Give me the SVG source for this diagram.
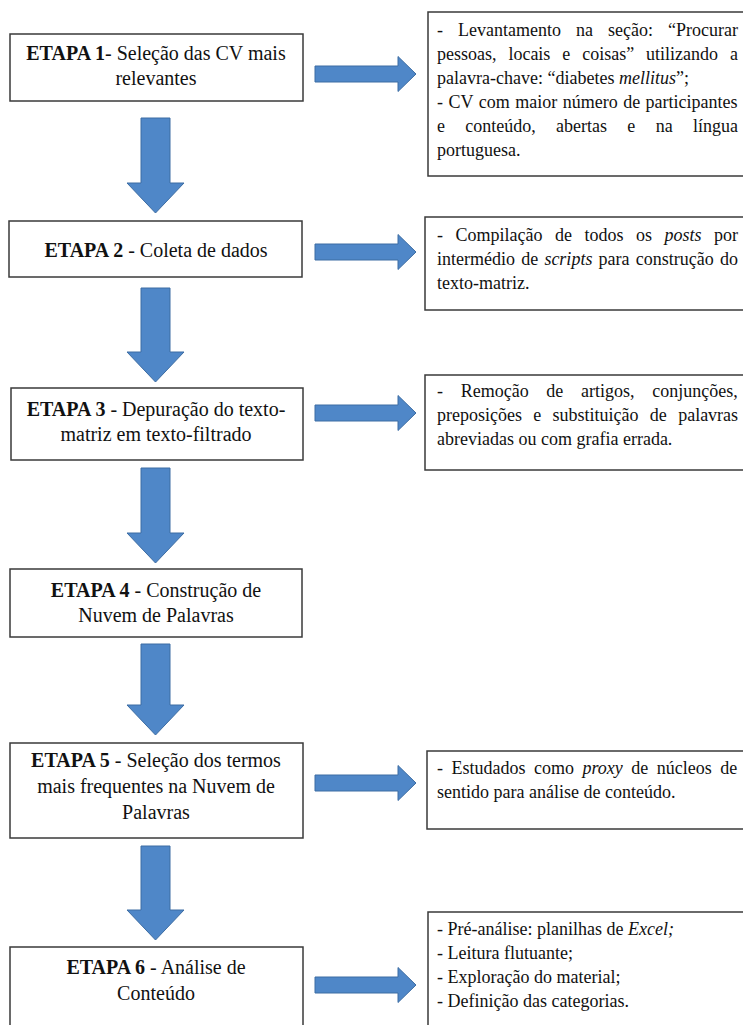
<svg xmlns="http://www.w3.org/2000/svg" width="743" height="1025" viewBox="0 0 743 1025">
<style>
.box{fill:#ffffff;stroke:#3a3a3a;stroke-width:1.5}
.arr{fill:#4F87C8;stroke:#3D6DA3;stroke-width:1}
.lt{font-family:"Liberation Serif","Times New Roman",serif;font-size:20px;fill:#111;text-anchor:middle}
.rt{font-family:"Liberation Serif","Times New Roman",serif;font-size:18px;fill:#111}
.b{font-weight:bold}
.i{font-style:italic}
</style>
<rect width="743" height="1025" fill="#ffffff"/>
<g id="connectors">
<polygon class="arr" points="141,118 170,118 170,183 184,183 155.5,213 127,183 141,183"/>
<polygon class="arr" points="141,288 170,288 170,352 184,352 155.5,382 127,352 141,352"/>
<polygon class="arr" points="141,468 170,468 170,533 184,533 155.5,563 127,533 141,533"/>
<polygon class="arr" points="141,644 170,644 170,705 184,705 155.5,735 127,705 141,705"/>
<polygon class="arr" points="141,846 170,846 170,910 184,910 155.5,940 127,910 141,910"/>
<polygon class="arr" points="315,66 398,66 398,56.5 416,74 398,91.5 398,82 315,82"/>
<polygon class="arr" points="315,244 398,244 398,234.5 416,252 398,269.5 398,260 315,260"/>
<polygon class="arr" points="315,405 398,405 398,395.5 416,413 398,430.5 398,421 315,421"/>
<polygon class="arr" points="315,775 398,775 398,765.5 416,783 398,800.5 398,791 315,791"/>
<polygon class="arr" points="315,977 398,977 398,967.5 416,985 398,1002.5 398,993 315,993"/>
</g>
<g id="etapa1">
<rect class="box" x="10" y="34" width="293" height="67"/>
<text class="lt" x="156" y="60"><tspan class="b">ETAPA 1</tspan>- Seleção das CV mais</text>
<text class="lt" x="156" y="85">relevantes</text>
</g>
<g id="etapa2">
<rect class="box" x="9" y="221" width="293" height="56"/>
<text class="lt" x="156" y="257"><tspan class="b">ETAPA 2</tspan> - Coleta de dados</text>
</g>
<g id="etapa3">
<rect class="box" x="11" y="388" width="292" height="72"/>
<text class="lt" x="156" y="416"><tspan class="b">ETAPA 3</tspan> - Depuração do texto-</text>
<text class="lt" x="156" y="441">matriz em texto-filtrado</text>
</g>
<g id="etapa4">
<rect class="box" x="10" y="569" width="292" height="68"/>
<text class="lt" x="156" y="597"><tspan class="b">ETAPA 4</tspan> - Construção de</text>
<text class="lt" x="156" y="622">Nuvem de Palavras</text>
</g>
<g id="etapa5">
<rect class="box" x="10" y="743" width="293" height="95"/>
<text class="lt" x="156" y="767"><tspan class="b">ETAPA 5</tspan> - Seleção dos termos</text>
<text class="lt" x="156" y="793">mais frequentes na Nuvem de</text>
<text class="lt" x="156" y="819">Palavras</text>
</g>
<g id="etapa6">
<rect class="box" x="10" y="947" width="293" height="95"/>
<text class="lt" x="156" y="974"><tspan class="b">ETAPA 6</tspan> - Análise de</text>
<text class="lt" x="156" y="1000">Conteúdo</text>
</g>
<g id="nota1">
<rect class="box" x="428" y="12" width="320" height="164"/>
<text class="rt" x="437" y="36" word-spacing="10.5">- Levantamento na seção: “Procurar</text>
<text class="rt" x="437" y="60" word-spacing="7.4">pessoas, locais e coisas” utilizando a</text>
<text class="rt" x="437" y="84">palavra-chave: “diabetes <tspan class="i">mellitus</tspan>”;</text>
<text class="rt" x="437" y="108" word-spacing="1">- CV com maior número de participantes</text>
<text class="rt" x="437" y="132" word-spacing="15.8">e conteúdo, abertas e na língua</text>
<text class="rt" x="437" y="156">portuguesa.</text>
</g>
<g id="nota2">
<rect class="box" x="425" y="217" width="323" height="93"/>
<text class="rt" x="437" y="241" word-spacing="8">- Compilação de todos os <tspan class="i">posts</tspan> por</text>
<text class="rt" x="437" y="265" word-spacing="1.7">intermédio de <tspan class="i">scripts</tspan> para construção do</text>
<text class="rt" x="437" y="289">texto-matriz.</text>
</g>
<g id="nota3">
<rect class="box" x="425" y="375" width="323" height="95"/>
<text class="rt" x="437" y="397" word-spacing="13.2">- Remoção de artigos, conjunções,</text>
<text class="rt" x="437" y="421" word-spacing="6.8">preposições e substituição de palavras</text>
<text class="rt" x="437" y="445">abreviadas ou com grafia errada.</text>
</g>
<g id="nota5">
<rect class="box" x="427" y="751" width="321" height="78"/>
<text class="rt" x="437" y="774" word-spacing="4">- Estudados como <tspan class="i">proxy</tspan> de núcleos de</text>
<text class="rt" x="437" y="798">sentido para análise de conteúdo.</text>
</g>
<g id="nota6">
<rect class="box" x="428" y="912" width="320" height="130"/>
<text class="rt" x="437" y="935">- Pré-análise: planilhas de <tspan class="i">Excel;</tspan></text>
<text class="rt" x="437" y="959">- Leitura flutuante;</text>
<text class="rt" x="437" y="983">- Exploração do material;</text>
<text class="rt" x="437" y="1007">- Definição das categorias.</text>
</g>
</svg>
